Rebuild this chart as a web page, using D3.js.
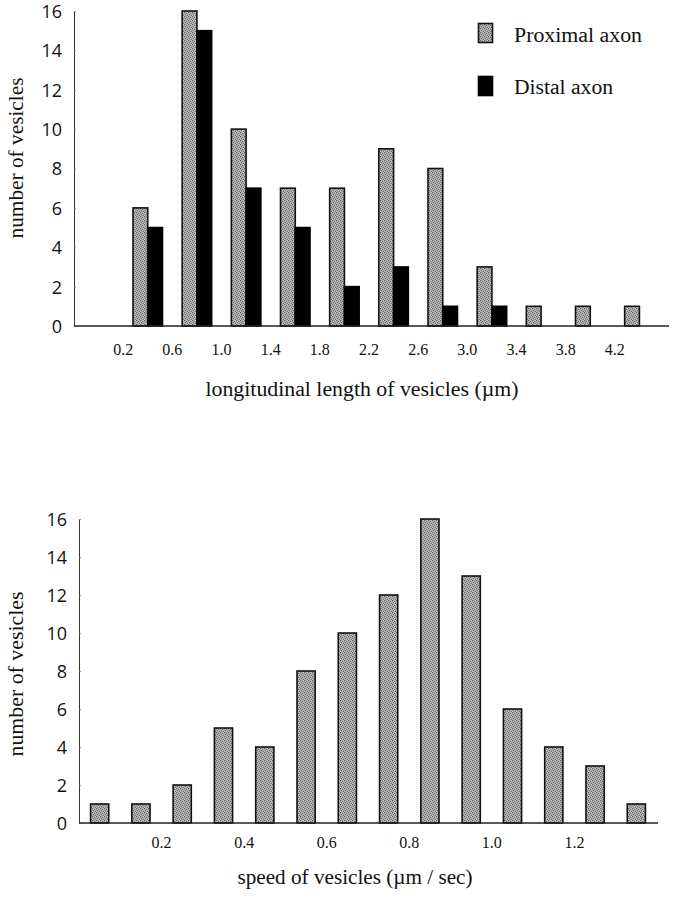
<!DOCTYPE html>
<html>
<head>
<meta charset="utf-8">
<script src="https://cdn.jsdelivr.net/npm/d3@7/dist/d3.min.js"></script>
<style>
  html, body { margin: 0; padding: 0; background: #fff; }
  svg { display: block; }
</style>
</head>
<body>
<svg id="chart" width="673" height="899"></svg>
<script>
// ---- Data ----
const lengthBinStarts = [0.2, 0.6, 1.0, 1.4, 1.8, 2.2, 2.6, 3.0, 3.4, 3.8, 4.2];
const proximalCounts  = [6, 16, 10, 7, 7, 9, 8, 3, 1, 1, 1];
const distalCounts    = [5, 15, 7, 5, 2, 3, 1, 1, 0, 0, 0];
const lengthTicks     = [0.2, 0.6, 1.0, 1.4, 1.8, 2.2, 2.6, 3.0, 3.4, 3.8, 4.2];

const speedBinStarts  = [0.0, 0.1, 0.2, 0.3, 0.4, 0.5, 0.6, 0.7, 0.8, 0.9, 1.0, 1.1, 1.2, 1.3];
const speedCounts     = [1, 1, 2, 5, 4, 8, 10, 12, 16, 13, 6, 4, 3, 1];
const speedTicks      = [0.2, 0.4, 0.6, 0.8, 1.0, 1.2];

const countTicks      = [0, 2, 4, 6, 8, 10, 12, 14, 16];
const seriesNames     = ["Proximal axon", "Distal axon"];

// ---- Drawing ----
const svg = d3.select("#chart");
const SERIF = "'Liberation Serif', 'DejaVu Serif', serif";
const SANS = "'Open Sans', 'Liberation Sans', sans-serif";

// stipple (halftone-like) pattern for grey bars
const defs = svg.append("defs");
const pat = defs.append("pattern").attr("id", "stip")
  .attr("width", 4).attr("height", 4).attr("patternUnits", "userSpaceOnUse");
pat.append("rect").attr("width", 4).attr("height", 4).attr("fill", "#a6a6a6");
[[0,0,"#5e5e5e"],[2,1,"#6a6a6a"],[1,2,"#646464"],[3,3,"#707070"],[3,0,"#c6c6c6"],[1,1,"#c0c0c0"],[0,3,"#bebebe"],[2,2,"#c8c8c8"]]
  .forEach(([x, y, c]) => pat.append("rect").attr("x", x).attr("y", y).attr("width", 1).attr("height", 1).attr("fill", c));

function yAxis(g, y, x0) {
  const ax = d3.axisLeft(y).tickValues(countTicks).tickSizeInner(-2).tickSizeOuter(0).tickPadding(12)
    .tickFormat(d3.format("d"));
  const a = g.append("g").attr("transform", `translate(${x0},0)`).call(ax);
  a.select(".domain").attr("stroke", "#333").attr("stroke-width", 1);
  a.selectAll(".tick line").attr("stroke", "#777").attr("stroke-width", 0.8);
  a.selectAll(".tick text").attr("font-family", SANS).attr("font-size", 18).attr("fill", "#111")
    .attr("dy", "0.36em");
  return a;
}

function label(g, txt, opts) {
  const t = g.append("text")
    .attr("font-family", SERIF).attr("font-size", opts.size || 20).attr("fill", "#111")
    .attr("text-anchor", opts.anchor || "middle")
    .attr("textLength", opts.len).attr("lengthAdjust", "spacingAndGlyphs")
    .text(txt);
  if (opts.rotate) t.attr("transform", `translate(${opts.x},${opts.y}) rotate(-90)`);
  else t.attr("x", opts.x).attr("y", opts.y);
  return t;
}

// ===== Top chart =====
const gTop = svg.append("g");
const xL = d3.scaleLinear().domain([-0.2, 4.6]).range([74, 664]);
const yL = d3.scaleLinear().domain([0, 16]).range([326, 11]);
const binW = xL(0.6) - xL(0.2);
const pairW = binW * 0.6;
const barW = pairW / 2;

lengthBinStarts.forEach((s, i) => {
  const x0 = xL(s) + (binW - pairW) / 2;
  if (proximalCounts[i] > 0)
    gTop.append("rect").attr("x", x0).attr("y", yL(proximalCounts[i]))
      .attr("width", barW).attr("height", yL(0) - yL(proximalCounts[i]))
      .attr("fill", "url(#stip)").attr("stroke", "#111").attr("stroke-width", 1.6);
  if (distalCounts[i] > 0)
    gTop.append("rect").attr("x", x0 + barW).attr("y", yL(distalCounts[i]))
      .attr("width", barW).attr("height", yL(0) - yL(distalCounts[i]))
      .attr("fill", "#000").attr("stroke", "#000").attr("stroke-width", 1.6);
});

yAxis(gTop, yL, 74);
gTop.append("line").attr("x1", 74).attr("x2", 669).attr("y1", yL(0)).attr("y2", yL(0))
  .attr("stroke", "#222").attr("stroke-width", 1.5);
gTop.selectAll(".xl").data(lengthTicks).enter().append("text")
  .attr("x", d => xL(d)).attr("y", 355).attr("text-anchor", "middle")
  .attr("font-family", SERIF).attr("font-size", 16).attr("fill", "#111")
  .text(d => d.toFixed(1));
label(gTop, "longitudinal length of vesicles (\u00b5m)", { x: 362, y: 396, len: 313 });
label(gTop, "number of vesicles", { x: 23, y: 158, len: 161, rotate: true });

// legend
const leg = gTop.append("g");
leg.append("rect").attr("x", 478.5).attr("y", 23.5).attr("width", 14).attr("height", 19)
  .attr("fill", "url(#stip)").attr("stroke", "#111").attr("stroke-width", 1.6);
leg.append("rect").attr("x", 478.5).attr("y", 76.5).attr("width", 14).attr("height", 19)
  .attr("fill", "#000").attr("stroke", "#000").attr("stroke-width", 1.6);
label(leg, seriesNames[0], { x: 514, y: 42, len: 128, anchor: "start" });
label(leg, seriesNames[1], { x: 514, y: 94, len: 99, anchor: "start" });

// ===== Bottom chart =====
const gBot = svg.append("g");
const xS = d3.scaleLinear().domain([0, 1.4]).range([79, 657]);
const yS = d3.scaleLinear().domain([0, 16]).range([823, 519]);
const sBinW = xS(0.1) - xS(0);
const sBarW = sBinW * 0.44;

gBot.selectAll(".sb").data(speedBinStarts).enter().append("rect")
  .attr("x", (d) => xS(d) + (sBinW - sBarW) / 2)
  .attr("y", (d, i) => yS(speedCounts[i]))
  .attr("width", sBarW)
  .attr("height", (d, i) => yS(0) - yS(speedCounts[i]))
  .attr("fill", "url(#stip)").attr("stroke", "#111").attr("stroke-width", 1.6);

yAxis(gBot, yS, 79);
gBot.append("line").attr("x1", 79).attr("x2", 658).attr("y1", yS(0)).attr("y2", yS(0))
  .attr("stroke", "#222").attr("stroke-width", 1.5);
gBot.selectAll(".xs").data(speedTicks).enter().append("text")
  .attr("x", d => xS(d)).attr("y", 848).attr("text-anchor", "middle")
  .attr("font-family", SERIF).attr("font-size", 16).attr("fill", "#111")
  .text(d => d.toFixed(1));
label(gBot, "speed of vesicles (\u00b5m / sec)", { x: 355, y: 884, len: 235 });
label(gBot, "number of vesicles", { x: 23, y: 674, len: 165, rotate: true });
</script>
</body>
</html>
